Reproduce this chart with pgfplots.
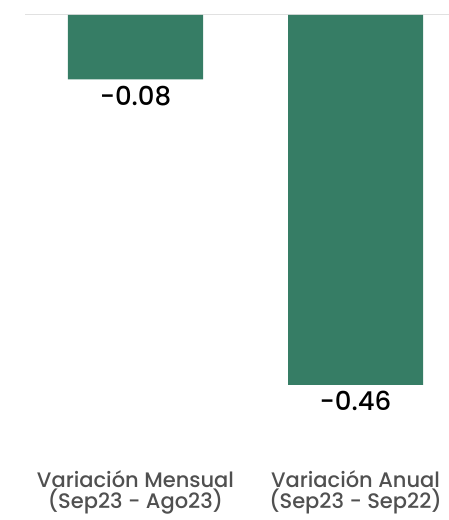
\documentclass[border=0pt]{standalone}
\usepackage{pgfplots}
\pgfplotsset{compat=1.18}
\usepackage{fontspec}
\setmainfont{Poppins}[UprightFont=* Medium]
\definecolor{barg}{RGB}{54,125,101}
\definecolor{labg}{RGB}{80,80,80}
\definecolor{zline}{RGB}{225,225,225}
\begin{document}
\begin{tikzpicture}
\path[use as bounding box] (0,-58pt) rectangle (449pt,462pt);
\begin{axis}[
  scale only axis,
  width=449pt, height=462pt,
  xmin=-0.6159, xmax=1.425,
  ymin=-0.556, ymax=0.01866,
  axis line style={draw=none},
  ytick=\empty,
  xtick={0,1},
  xticklabels={{Variación Mensual\\(Sep23 - Ago23)},{Variación Anual\\(Sep23 - Sep22)}},
  x tick label style={align=center, font=\fontsize{21}{21.5}\selectfont, text=labg, yshift=-5pt},
  major tick length=0pt,
  clip=false,
  nodes near coords,
  nodes near coords style={anchor=north, font=\fontsize{26}{26}\selectfont, text=black, yshift=-3pt,
    /pgf/number format/.cd, fixed, fixed zerofill, precision=2},
  /pgf/number format/assume math mode=true,
]
\draw[zline, line width=1pt] (axis cs:-0.502,0) -- (axis cs:1.425,0);
\addplot[ybar, bar width=135pt, fill=barg, draw=none] coordinates {(0,-0.08) (1,-0.46)};
\end{axis}
\end{tikzpicture}
\end{document}
